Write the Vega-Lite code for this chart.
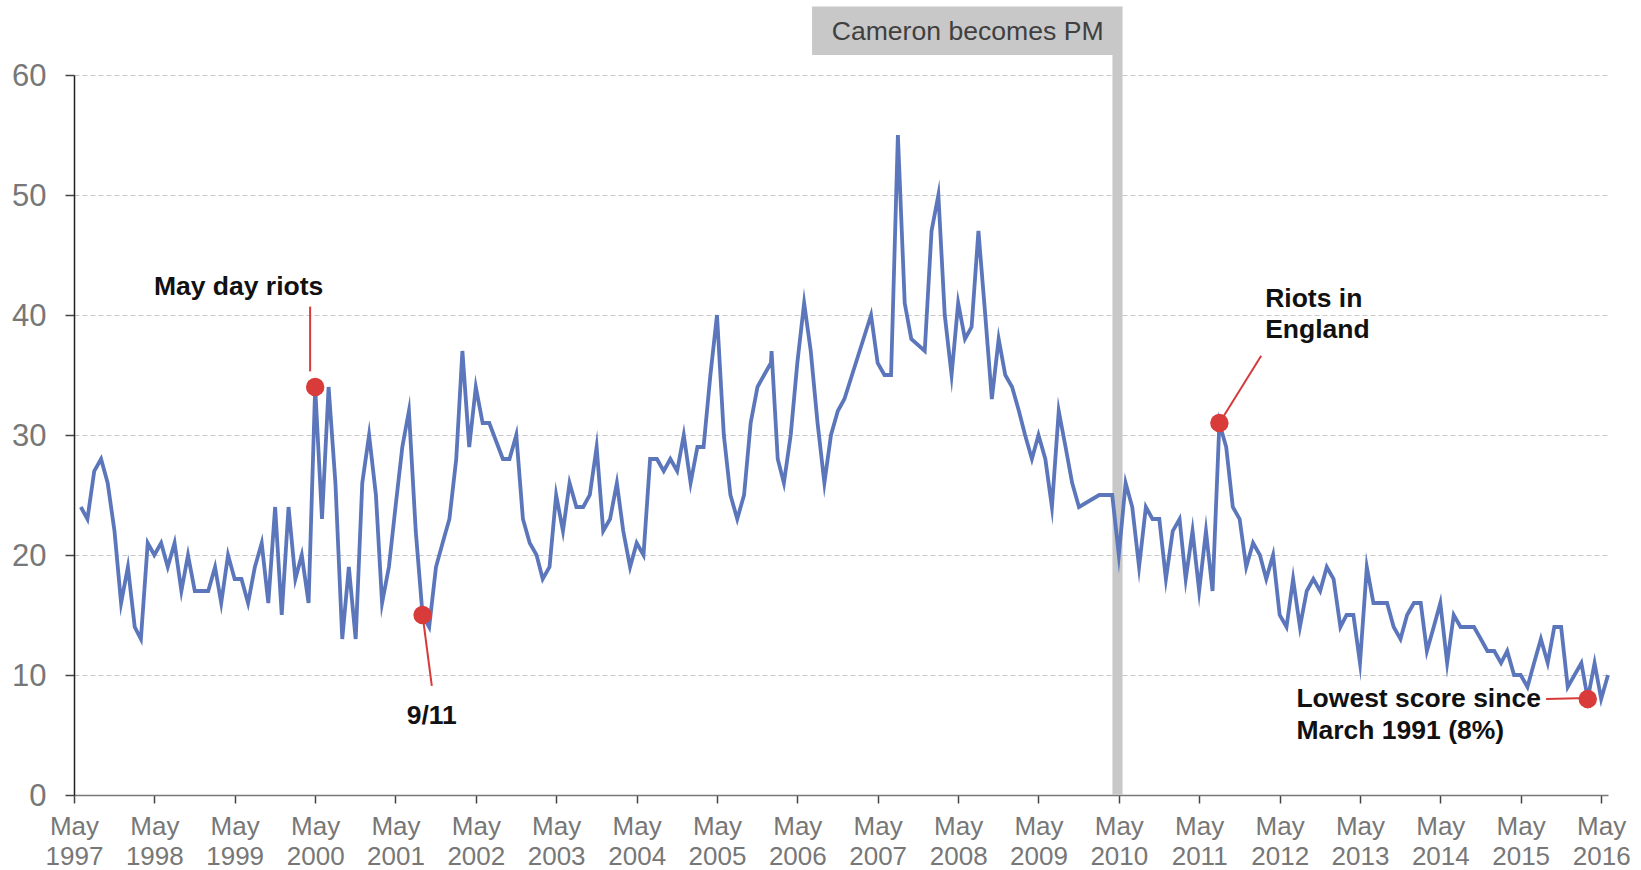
{
  "$schema": "https://vega.github.io/schema/vega-lite/v6.json",
  "width": 1534,
  "height": 720,
  "autosize": {"type": "none"},
  "padding": {"left": 74, "top": 75, "right": 33, "bottom": 75},
  "background": "white",
  "config": {"view": {"stroke": null}, "font": "Liberation Sans"},
  "datasets": {
    "series": [
      {"d":"1997-06-01","v":24},{"d":"1997-07-01","v":23},{"d":"1997-08-01","v":27},{"d":"1997-09-01","v":28},{"d":"1997-10-01","v":26},{"d":"1997-11-01","v":22},{"d":"1997-12-01","v":16},
      {"d":"1998-01-01","v":19},{"d":"1998-02-01","v":14},{"d":"1998-03-01","v":13},{"d":"1998-04-01","v":21},{"d":"1998-05-01","v":20},{"d":"1998-06-01","v":21},{"d":"1998-07-01","v":19},{"d":"1998-08-01","v":21},{"d":"1998-09-01","v":17},{"d":"1998-10-01","v":20},{"d":"1998-11-01","v":17},{"d":"1998-12-01","v":17},
      {"d":"1999-01-01","v":17},{"d":"1999-02-01","v":19},{"d":"1999-03-01","v":16},{"d":"1999-04-01","v":20},{"d":"1999-05-01","v":18},{"d":"1999-06-01","v":18},{"d":"1999-07-01","v":16},{"d":"1999-08-01","v":19},{"d":"1999-09-01","v":21},{"d":"1999-10-01","v":16},{"d":"1999-11-01","v":24},{"d":"1999-12-01","v":15},
      {"d":"2000-01-01","v":24},{"d":"2000-02-01","v":18},{"d":"2000-03-01","v":20},{"d":"2000-04-01","v":16},{"d":"2000-05-01","v":34},{"d":"2000-06-01","v":23},{"d":"2000-07-01","v":34},{"d":"2000-08-01","v":26},{"d":"2000-09-01","v":13},{"d":"2000-10-01","v":19},{"d":"2000-11-01","v":13},{"d":"2000-12-01","v":26},
      {"d":"2001-01-01","v":30},{"d":"2001-02-01","v":25},{"d":"2001-03-01","v":16},{"d":"2001-04-01","v":19},{"d":"2001-05-01","v":24},{"d":"2001-06-01","v":29},{"d":"2001-07-01","v":32},{"d":"2001-08-01","v":22},{"d":"2001-09-01","v":15},{"d":"2001-10-01","v":14},{"d":"2001-11-01","v":19},{"d":"2001-12-01","v":21},
      {"d":"2002-01-01","v":23},{"d":"2002-02-01","v":28},{"d":"2002-03-01","v":37},{"d":"2002-04-01","v":29},{"d":"2002-05-01","v":34},{"d":"2002-06-01","v":31},{"d":"2002-07-01","v":31},{"d":"2002-08-01","v":29.5},{"d":"2002-09-01","v":28},{"d":"2002-10-01","v":28},{"d":"2002-11-01","v":30},{"d":"2002-12-01","v":23},
      {"d":"2003-01-01","v":21},{"d":"2003-02-01","v":20},{"d":"2003-03-01","v":18},{"d":"2003-04-01","v":19},{"d":"2003-05-01","v":25},{"d":"2003-06-01","v":22},{"d":"2003-07-01","v":26},{"d":"2003-08-01","v":24},{"d":"2003-09-01","v":24},{"d":"2003-10-01","v":25},{"d":"2003-11-01","v":29},{"d":"2003-12-01","v":22},
      {"d":"2004-01-01","v":23},{"d":"2004-02-01","v":26},{"d":"2004-03-01","v":22},{"d":"2004-04-01","v":19},{"d":"2004-05-01","v":21},{"d":"2004-06-01","v":20},{"d":"2004-07-01","v":28},{"d":"2004-08-01","v":28},{"d":"2004-09-01","v":27},{"d":"2004-10-01","v":28},{"d":"2004-11-01","v":27},{"d":"2004-12-01","v":30},
      {"d":"2005-01-01","v":26},{"d":"2005-02-01","v":29},{"d":"2005-03-01","v":29},{"d":"2005-04-01","v":35},{"d":"2005-05-01","v":40},{"d":"2005-06-01","v":30},{"d":"2005-07-01","v":25},{"d":"2005-08-01","v":23},{"d":"2005-09-01","v":25},{"d":"2005-10-01","v":31},{"d":"2005-11-01","v":34},{"d":"2005-12-01","v":35},
      {"d":"2006-01-01","v":36},{"d":"2006-01-04","v":37},{"d":"2006-02-01","v":28},{"d":"2006-03-01","v":26},{"d":"2006-04-01","v":30},{"d":"2006-05-01","v":36},{"d":"2006-06-01","v":41},{"d":"2006-07-01","v":37},{"d":"2006-08-01","v":31},{"d":"2006-09-01","v":26},{"d":"2006-10-01","v":30},{"d":"2006-11-01","v":32},{"d":"2006-12-01","v":33},
      {"d":"2007-04-01","v":40},{"d":"2007-05-01","v":36},{"d":"2007-06-01","v":35},{"d":"2007-07-01","v":35},{"d":"2007-08-01","v":55},{"d":"2007-09-01","v":41},{"d":"2007-10-01","v":38},{"d":"2007-12-01","v":37},
      {"d":"2008-01-01","v":47},{"d":"2008-02-01","v":50},{"d":"2008-03-01","v":40},{"d":"2008-04-01","v":35},{"d":"2008-05-01","v":41},{"d":"2008-06-01","v":38},{"d":"2008-07-01","v":39},{"d":"2008-08-01","v":47},{"d":"2008-09-01","v":40},{"d":"2008-10-01","v":33},{"d":"2008-11-01","v":38},{"d":"2008-12-01","v":35},
      {"d":"2009-01-01","v":34},{"d":"2009-02-01","v":32},{"d":"2009-03-01","v":30},{"d":"2009-04-01","v":28},{"d":"2009-05-01","v":30},{"d":"2009-06-01","v":28},{"d":"2009-07-01","v":24},{"d":"2009-08-01","v":32},{"d":"2009-09-01","v":29},{"d":"2009-10-01","v":26},{"d":"2009-11-01","v":24},
      {"d":"2010-02-01","v":25},{"d":"2010-04-01","v":25},{"d":"2010-05-01","v":20},{"d":"2010-06-01","v":26},{"d":"2010-07-01","v":24},{"d":"2010-08-01","v":19},{"d":"2010-09-01","v":24},{"d":"2010-10-01","v":23},{"d":"2010-11-01","v":23},{"d":"2010-12-01","v":18},
      {"d":"2011-01-01","v":22},{"d":"2011-02-01","v":23},{"d":"2011-03-01","v":18},{"d":"2011-04-01","v":22},{"d":"2011-05-01","v":17},{"d":"2011-06-01","v":22},{"d":"2011-07-01","v":17},{"d":"2011-08-01","v":31},{"d":"2011-09-01","v":29},{"d":"2011-10-01","v":24},{"d":"2011-11-01","v":23},{"d":"2011-12-01","v":19},
      {"d":"2012-01-01","v":21},{"d":"2012-02-01","v":20},{"d":"2012-03-01","v":18},{"d":"2012-04-01","v":20},{"d":"2012-05-01","v":15},{"d":"2012-06-01","v":14},{"d":"2012-07-01","v":18},{"d":"2012-08-01","v":14},{"d":"2012-09-01","v":17},{"d":"2012-10-01","v":18},{"d":"2012-11-01","v":17},{"d":"2012-12-01","v":19},
      {"d":"2013-01-01","v":18},{"d":"2013-02-01","v":14},{"d":"2013-03-01","v":15},{"d":"2013-04-01","v":15},{"d":"2013-05-01","v":11},{"d":"2013-06-01","v":19},{"d":"2013-07-01","v":16},{"d":"2013-08-01","v":16},{"d":"2013-09-01","v":16},{"d":"2013-10-01","v":14},{"d":"2013-11-01","v":13},{"d":"2013-12-01","v":15},
      {"d":"2014-01-01","v":16},{"d":"2014-02-01","v":16},{"d":"2014-03-01","v":12},{"d":"2014-04-01","v":14},{"d":"2014-05-01","v":16},{"d":"2014-06-01","v":11},{"d":"2014-07-01","v":15},{"d":"2014-08-01","v":14},{"d":"2014-09-01","v":14},{"d":"2014-10-01","v":14},{"d":"2014-11-01","v":13},{"d":"2014-12-01","v":12},
      {"d":"2015-01-01","v":12},{"d":"2015-02-01","v":11},{"d":"2015-03-01","v":12},{"d":"2015-04-01","v":10},{"d":"2015-05-01","v":10},{"d":"2015-06-01","v":9},{"d":"2015-07-01","v":11},{"d":"2015-08-01","v":13},{"d":"2015-09-01","v":11},{"d":"2015-10-01","v":14},{"d":"2015-11-01","v":14},{"d":"2015-12-01","v":9},
      {"d":"2016-01-01","v":10},{"d":"2016-02-01","v":11},{"d":"2016-03-01","v":8},{"d":"2016-04-01","v":11},{"d":"2016-05-01","v":8},{"d":"2016-06-01","v":10}
    ],
    "dots": [
      {"d":"2000-05-01","v":34},{"d":"2001-09-01","v":15},{"d":"2011-08-01","v":31},{"d":"2016-03-01","v":8}
    ],
    "leaders": [
      {"d":"2000-04-08","v":35.3,"d2":"2000-04-08","v2":40.7},
      {"d":"2001-09-01","v":15,"d2":"2001-10-13","v2":9.1},
      {"d":"2011-08-01","v":31,"d2":"2012-02-07","v2":36.6},
      {"d":"2015-08-25","v":8.0,"d2":"2016-03-01","v2":8.08}
    ],
    "labelsCenter": [
      {"t":"May day riots","d":"1999-05-19","v":41.64},
      {"t":"9/11","d":"2001-10-13","v":5.9}
    ],
    "labelsLeft": [
      {"t":"Riots in","d":"2012-02-25","v":40.67},
      {"t":"England","d":"2012-02-25","v":38.05},
      {"t":"Lowest score since","d":"2012-07-16","v":7.33},
      {"t":"March 1991 (8%)","d":"2012-07-16","v":4.7}
    ],
    "band": [
      {"d":"2010-04-02","d2":"2010-05-18","v":0,"v2":61.67}
    ],
    "box": [
      {"d":"2006-07-07","d2":"2010-05-18","v":61.67,"v2":65.7,"t":"Cameron becomes PM","tc":"2008-06-13","tv":62.9}
    ]
  },
  "layer": [
    {
      "data": {"name": "band"},
      "mark": {"type": "rect", "color": "#c8c8c8"},
      "encoding": {
        "x": {"field": "d", "type": "temporal", "title": null,
          "scale": {"type": "utc", "domain": [{"year":1997,"month":"may","date":1,"utc":true},{"year":2016,"month":"jun","date":1,"utc":true}]},
          "axis": {
            "values": [
              {"year":1997,"month":"may","date":1,"utc":true},{"year":1998,"month":"may","date":1,"utc":true},{"year":1999,"month":"may","date":1,"utc":true},{"year":2000,"month":"may","date":1,"utc":true},{"year":2001,"month":"may","date":1,"utc":true},{"year":2002,"month":"may","date":1,"utc":true},{"year":2003,"month":"may","date":1,"utc":true},{"year":2004,"month":"may","date":1,"utc":true},{"year":2005,"month":"may","date":1,"utc":true},{"year":2006,"month":"may","date":1,"utc":true},{"year":2007,"month":"may","date":1,"utc":true},{"year":2008,"month":"may","date":1,"utc":true},{"year":2009,"month":"may","date":1,"utc":true},{"year":2010,"month":"may","date":1,"utc":true},{"year":2011,"month":"may","date":1,"utc":true},{"year":2012,"month":"may","date":1,"utc":true},{"year":2013,"month":"may","date":1,"utc":true},{"year":2014,"month":"may","date":1,"utc":true},{"year":2015,"month":"may","date":1,"utc":true},{"year":2016,"month":"may","date":1,"utc":true}
            ],
            "labelExpr": "['May', utcFormat(datum.value, '%Y')]",
            "grid": false,
            "domainColor": "#777777",
            "domainWidth": 1.5,
            "tickColor": "#444444",
            "tickSize": 8,
            "tickWidth": 1.5,
            "labelFont": "Liberation Sans",
            "labelFontSize": 26,
            "labelColor": "#777777",
            "labelPadding": 10.5,
            "labelLineHeight": 30,
            "labelAlign": "center",
            "labelBaseline": "top",
            "labelOverlap": false,
            "labelFlush": false
          }
        },
        "x2": {"field": "d2"},
        "y": {"field": "v", "type": "quantitative", "title": null,
          "scale": {"domain": [0, 60], "nice": false, "zero": true},
          "axis": {
            "values": [0, 10, 20, 30, 40, 50, 60],
            "grid": true,
            "gridColor": "#c8c8c8",
            "gridDash": [5, 3],
            "gridWidth": 1,
            "domainColor": "#222222",
            "domainWidth": 1.5,
            "tickColor": "#444444",
            "tickSize": 9,
            "tickWidth": 1.5,
            "labelFont": "Liberation Sans",
            "labelFontSize": 31,
            "labelColor": "#777777",
            "labelPadding": 19,
            "labelOffset": 1.5
          }
        },
        "y2": {"field": "v2"}
      }
    },
    {
      "data": {"name": "series"},
      "mark": {"type": "line", "color": "#5b76bb", "strokeWidth": 3.8, "strokeJoin": "miter", "strokeMiterLimit": 10},
      "encoding": {
        "x": {"field": "d", "type": "temporal", "title": null},
        "y": {"field": "v", "type": "quantitative", "title": null}
      }
    },
    {
      "data": {"name": "box"},
      "mark": {"type": "rect", "color": "#c8c8c8"},
      "encoding": {
        "x": {"field": "d", "type": "temporal", "title": null},
        "x2": {"field": "d2"},
        "y": {"field": "v", "type": "quantitative", "title": null},
        "y2": {"field": "v2"}
      }
    },
    {
      "data": {"name": "box"},
      "mark": {"type": "text", "align": "center", "baseline": "alphabetic", "font": "Liberation Sans", "fontSize": 26.6, "color": "#404040"},
      "encoding": {
        "x": {"field": "tc", "type": "temporal", "title": null},
        "y": {"field": "tv", "type": "quantitative", "title": null},
        "text": {"field": "t"}
      }
    },
    {
      "data": {"name": "leaders"},
      "mark": {"type": "rule", "color": "#d63a3a", "strokeWidth": 2},
      "encoding": {
        "x": {"field": "d", "type": "temporal", "title": null},
        "x2": {"field": "d2"},
        "y": {"field": "v", "type": "quantitative", "title": null},
        "y2": {"field": "v2"}
      }
    },
    {
      "data": {"name": "dots"},
      "mark": {"type": "point", "shape": "circle", "filled": true, "color": "#d93b3b", "opacity": 1, "size": 340},
      "encoding": {
        "x": {"field": "d", "type": "temporal", "title": null},
        "y": {"field": "v", "type": "quantitative", "title": null}
      }
    },
    {
      "data": {"name": "labelsCenter"},
      "mark": {"type": "text", "align": "center", "baseline": "alphabetic", "font": "Liberation Sans", "fontWeight": "bold", "fontSize": 26.5, "color": "#111111"},
      "encoding": {
        "x": {"field": "d", "type": "temporal", "title": null},
        "y": {"field": "v", "type": "quantitative", "title": null},
        "text": {"field": "t"}
      }
    },
    {
      "data": {"name": "labelsLeft"},
      "mark": {"type": "text", "align": "left", "baseline": "alphabetic", "font": "Liberation Sans", "fontWeight": "bold", "fontSize": 26.5, "color": "#111111"},
      "encoding": {
        "x": {"field": "d", "type": "temporal", "title": null},
        "y": {"field": "v", "type": "quantitative", "title": null},
        "text": {"field": "t"}
      }
    }
  ]
}
